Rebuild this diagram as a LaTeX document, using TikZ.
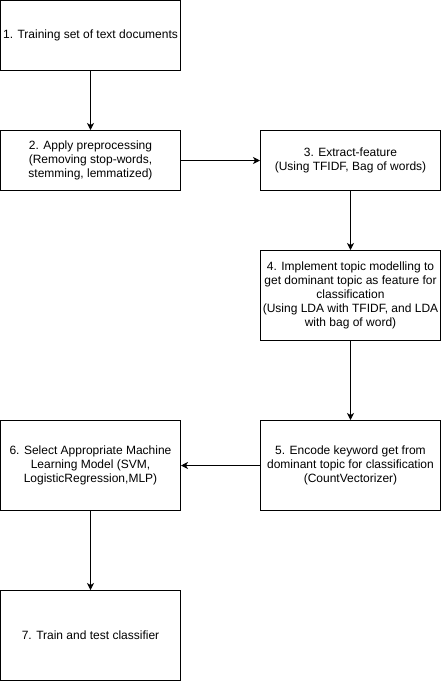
\documentclass[tikz,border=0pt]{standalone}
\usepackage{fontspec}
\setmainfont{Liberation Sans}
\usetikzlibrary{arrows.meta}
\begin{document}
\begin{tikzpicture}[x=1pt,y=-1pt,
  stepbox/.style={draw=black, line width=1pt, rectangle, inner sep=0pt,
    minimum width=180pt, align=center, font=\fontsize{12}{14}\selectfont},
  flow/.style={draw=black, line width=1pt, -{Stealth[length=7pt,width=7pt,inset=2pt]}}]
\useasboundingbox (0,0) rectangle (441,681);
\fill[white] (0,0) rectangle (441,681);
\node[stepbox, minimum height=70pt] (n1) at (90.5,35.5) {1. Training set of text documents};
\node[stepbox, minimum height=60pt] (n2) at (90.5,160.5) {2. Apply preprocessing\\(Removing stop-words,\\stemming, lemmatized)};
\node[stepbox, minimum height=60pt] (n3) at (350.5,160.5) {3. Extract-feature\\(Using TFIDF, Bag of words)};
\node[stepbox, minimum height=90pt] (n4) at (350.5,295.5) {4. Implement topic modelling to\\get dominant topic as feature for\\classification\\(Using LDA with TFIDF, and LDA\\with bag of word)};
\node[stepbox, minimum height=90pt] (n5) at (350.5,465.5) {5. Encode keyword get from\\dominant topic for classification\\(CountVectorizer)};
\node[stepbox, minimum height=90pt] (n6) at (90.5,465.5) {6. Select Appropriate Machine\\Learning Model (SVM,\\LogisticRegression,MLP)};
\node[stepbox, minimum height=90pt] (n7) at (90.5,635.5) {7. Train and test classifier};
\draw[flow] (n1.south) -- (n2.north);
\draw[flow] (n2.east) -- (n3.west);
\draw[flow] (n3.south) -- (n4.north);
\draw[flow] (n4.south) -- (n5.north);
\draw[flow] (n5.west) -- (n6.east);
\draw[flow] (n6.south) -- (n7.north);
\end{tikzpicture}
\end{document}
